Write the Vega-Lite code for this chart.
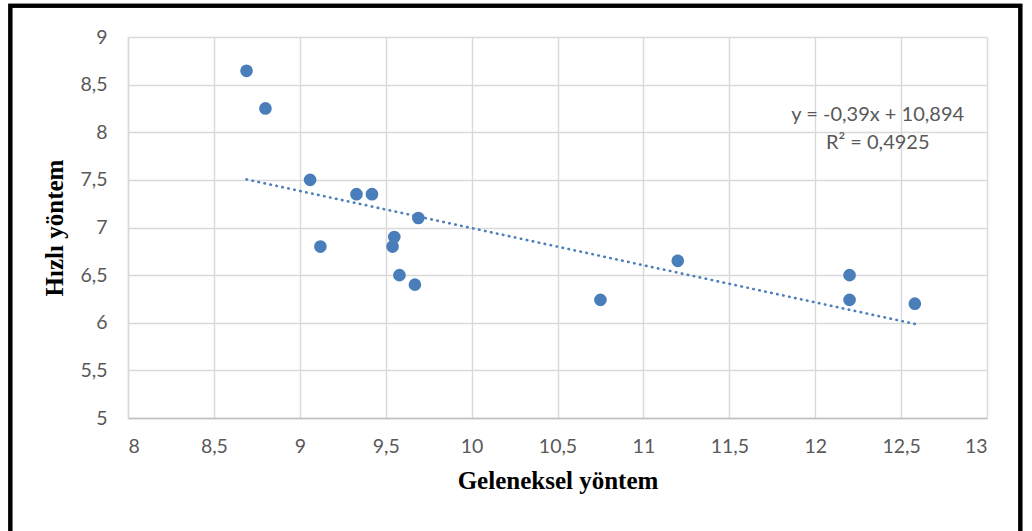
{
  "$schema": "https://vega.github.io/schema/vega-lite/v6.json",
  "autosize": {"type": "none"},
  "width": 859,
  "height": 381,
  "padding": {"left": 128, "top": 37, "right": 45, "bottom": 113},
  "background": "white",
  "config": {
    "view": {"stroke": null},
    "axis": {
      "labelFont": "Lato",
      "labelFontSize": 19.5,
      "labelColor": "#595959",
      "titleFont": "Liberation Serif",
      "titleFontSize": 25,
      "titleFontWeight": "bold",
      "titleColor": "#000000",
      "grid": true,
      "gridColor": "#d9d9d9",
      "gridWidth": 1.4,
      "ticks": false
    }
  },
  "datasets": {
    "olcum": [
      {"geleneksel": 8.69, "hizli": 8.645},
      {"geleneksel": 8.80, "hizli": 8.25},
      {"geleneksel": 9.06, "hizli": 7.50},
      {"geleneksel": 9.33, "hizli": 7.35},
      {"geleneksel": 9.42, "hizli": 7.35},
      {"geleneksel": 9.69, "hizli": 7.10},
      {"geleneksel": 9.55, "hizli": 6.90},
      {"geleneksel": 9.54, "hizli": 6.80},
      {"geleneksel": 9.12, "hizli": 6.80},
      {"geleneksel": 9.58, "hizli": 6.50},
      {"geleneksel": 9.67, "hizli": 6.40},
      {"geleneksel": 10.75, "hizli": 6.24},
      {"geleneksel": 11.20, "hizli": 6.65},
      {"geleneksel": 12.20, "hizli": 6.50},
      {"geleneksel": 12.20, "hizli": 6.24},
      {"geleneksel": 12.58, "hizli": 6.20}
    ],
    "egilim": [
      {"geleneksel": 8.69, "hizli": 7.5049},
      {"geleneksel": 12.58, "hizli": 5.9878}
    ],
    "denklem": [
      {"satir": "y = -0,39x + 10,894", "konum": 8.18},
      {"satir": "R² = 0,4925", "konum": 7.89}
    ]
  },
  "layer": [
    {
      "data": {"name": "olcum"},
      "mark": {"type": "point", "filled": true, "size": 160, "opacity": 1, "color": "#4a7ebb"},
      "encoding": {
        "x": {
          "field": "geleneksel",
          "type": "quantitative",
          "title": "Geleneksel yöntem",
          "scale": {"domain": [8, 13], "nice": false, "zero": false},
          "axis": {
            "grid": true,
            "values": [8, 8.5, 9, 9.5, 10, 10.5, 11, 11.5, 12, 12.5, 13],
            "labelExpr": "replace(format(datum.value, '~g'), '.', ',')",
            "labelPadding": 19,
            "titlePadding": 13,
            "domainColor": "#bfbfbf",
            "domainWidth": 1.5
          }
        },
        "y": {
          "field": "hizli",
          "type": "quantitative",
          "title": "Hızlı yöntem",
          "scale": {"domain": [5, 9], "nice": false, "zero": false},
          "axis": {
            "grid": true,
            "values": [5, 5.5, 6, 6.5, 7, 7.5, 8, 8.5, 9],
            "labelExpr": "replace(format(datum.value, '~g'), '.', ',')",
            "labelPadding": 21,
            "titlePadding": 12,
            "domainColor": "#d9d9d9",
            "domainWidth": 1.4
          }
        }
      }
    },
    {
      "data": {"name": "egilim"},
      "mark": {"type": "line", "color": "#4a7ebb", "strokeWidth": 2.6, "strokeDash": [0.5, 5.6], "strokeCap": "round"},
      "encoding": {
        "x": {"field": "geleneksel", "type": "quantitative"},
        "y": {"field": "hizli", "type": "quantitative"}
      }
    },
    {
      "data": {"name": "denklem"},
      "mark": {"type": "text", "font": "Lato", "fontSize": 20, "color": "#595959", "align": "center", "baseline": "middle"},
      "encoding": {
        "x": {"datum": 12.364, "type": "quantitative"},
        "y": {"field": "konum", "type": "quantitative"},
        "text": {"field": "satir"}
      }
    },
    {
      "data": {"name": "egilim"},
      "mark": {"type": "rect", "fill": null, "stroke": "#000000", "strokeWidth": 4, "clip": false},
      "encoding": {
        "x": {"datum": 7.315, "type": "quantitative"},
        "x2": {"datum": 13.194},
        "y": {"datum": 9.327, "type": "quantitative"},
        "y2": {"datum": 3.6}
      }
    }
  ]
}
